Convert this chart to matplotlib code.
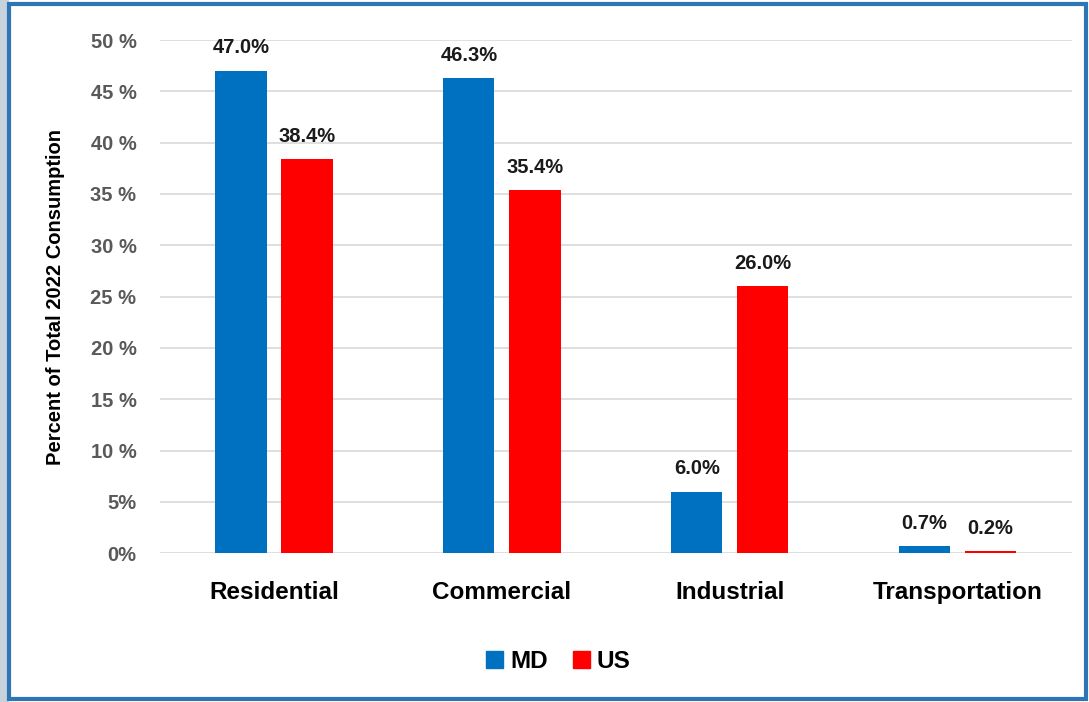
import matplotlib.pyplot as plt
from matplotlib.patches import Rectangle, Patch
import numpy as np

plt.rcParams['font.family'] = ['Liberation Sans', 'DejaVu Sans']

categories = ["Residential", "Commercial", "Industrial", "Transportation"]
md_values = [47.0, 46.3, 6.0, 0.7]
us_values = [38.4, 35.4, 26.0, 0.2]
y_ticks = [0, 5, 10, 15, 20, 25, 30, 35, 40, 45, 50]
y_tick_labels = ["0%", "5%", "10 %", "15 %", "20 %", "25 %", "30 %", "35 %", "40 %", "45 %", "50 %"]

md_color = "#0070C0"
us_color = "#FF0000"

fig = plt.figure(figsize=(10.89, 7.02), dpi=100)
ax = fig.add_axes([0.147, 0.212, 0.837, 0.731])

x = np.arange(len(categories))
w = 0.225
ax.bar(x - 0.145, md_values, w, color=md_color, label="MD", zorder=3)
ax.bar(x + 0.145, us_values, w, color=us_color, label="US", zorder=3)

# value labels above the bars
for xi, v in zip(x, md_values):
    ax.text(xi - 0.145, v + 1.3, f"{v:.1f}%", ha="center", va="bottom",
            fontsize=14.5, fontweight="bold", color="#1a1a1a")
for xi, v in zip(x, us_values):
    ax.text(xi + 0.145, v + 1.3, f"{v:.1f}%", ha="center", va="bottom",
            fontsize=14.5, fontweight="bold", color="#1a1a1a")

ax.set_xlim(-0.5, 3.5)
ax.set_ylim(0, 50)
ax.set_yticks(y_ticks)
ax.set_yticklabels(y_tick_labels, fontsize=14.5, fontweight="bold", color="#595959")
ax.set_xticks(x)
ax.set_xticklabels(categories, fontsize=17.5, fontweight="bold", color="black")
ax.tick_params(axis="y", length=0, pad=17)
ax.tick_params(axis="x", length=0, pad=20)
ax.grid(axis="y", color="#D9D9D9", linewidth=1.2, zorder=0)
for s in ax.spines.values():
    s.set_visible(False)

ax.set_ylabel("Percent of Total 2022 Consumption", fontsize=14.5, fontweight="bold", labelpad=18)

handles = [Patch(color=md_color, label="MD"), Patch(color=us_color, label="US")]
fig.legend(handles=handles, loc="center", bbox_to_anchor=(0.513, 0.057), ncol=2, frameon=False,
           handlelength=0.7, handleheight=0.7, handletextpad=0.3, columnspacing=1.0,
           prop={"size": 17.5, "weight": "bold"})

# outer frame
fig.patches.append(Rectangle((0, 0), 0.007, 1, transform=fig.transFigure, color="#C8D2DC", zorder=0))
fig.patches.append(Rectangle((0.0085, 0.004), 0.989, 0.991, transform=fig.transFigure,
                             fill=False, edgecolor="#2E75B6", linewidth=3))

fig.savefig("out.png", dpi=100)
